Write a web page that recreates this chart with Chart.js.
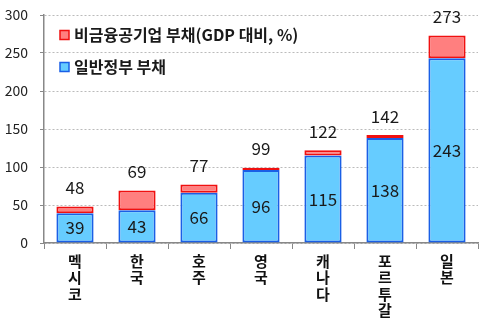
<!DOCTYPE html>
<html><head><meta charset="utf-8">
<script src="https://cdn.jsdelivr.net/npm/chart.js@4"></script>
<style>html,body{margin:0;padding:0;background:#fff}#wrap{width:487px;height:324px}</style>
</head><body><div id="wrap"><canvas id="c" width="487" height="324"></canvas></div>
<script>
const categories = ['멕시코','한국','호주','영국','캐나다','포르투갈','일본'];
const govDebt = [39, 43, 66, 96, 115, 138, 243];
const totalDebt = [48, 69, 77, 99, 122, 142, 273];
const seriesNames = ['일반정부 부채', '비금융공기업 부채(GDP 대비, %)'];
const yTicks = [0, 50, 100, 150, 200, 250, 300];
const soeDebt = totalDebt.map((t, i) => t - govDebt[i]);

const FONT = '"Noto Sans CJK KR", "Noto Sans", sans-serif';
const BLUE_FILL = '#66CCFF', BLUE_LINE = '#1A5FE6';
const RED_FILL = '#FF7F7F', RED_LINE = '#F01010';

const labelPlugin = {
  id: 'labels',
  afterDatasetsDraw(chart) {
    const ctx = chart.ctx;
    const m0 = chart.getDatasetMeta(0), m1 = chart.getDatasetMeta(1);
    ctx.save();
    ctx.font = '17px ' + FONT;
    ctx.fillStyle = '#1a1a1a';
    ctx.textAlign = 'center';
    ctx.textBaseline = 'middle';
    m0.data.forEach((b, i) => {
      ctx.fillText(String(govDebt[i]), b.x, (b.y + b.base) / 2);
    });
    m1.data.forEach((b, i) => {
      ctx.fillText(String(totalDebt[i]), b.x, b.y - 19);
    });
    // legend
    const x = chart.chartArea.left + 16;
    const items = [[seriesNames[1], RED_FILL, RED_LINE, 35], [seriesNames[0], BLUE_FILL, BLUE_LINE, 67]];
    ctx.textAlign = 'left';
    ctx.font = 'bold 16px ' + FONT;
    items.forEach(([t, f, l, y]) => {
      ctx.fillStyle = f; ctx.strokeStyle = l; ctx.lineWidth = 1.5;
      ctx.fillRect(x, y - 4.5, 9, 9); ctx.strokeRect(x, y - 4.5, 9, 9);
      ctx.fillStyle = '#1a1a1a';
      ctx.fillText(t, x + 14, y);
    });
    ctx.restore();
  }
};

new Chart(document.getElementById('c'), {
  type: 'bar',
  data: {
    labels: categories.map(c => Array.from(c)),
    datasets: [
      { label: seriesNames[0], data: govDebt, backgroundColor: BLUE_FILL, borderColor: BLUE_LINE, borderWidth: 2, borderSkipped: false, barPercentage: 0.6, categoryPercentage: 1.0 },
      { label: seriesNames[1], data: soeDebt, backgroundColor: RED_FILL, borderColor: RED_LINE, borderWidth: 2, borderSkipped: false, barPercentage: 0.6, categoryPercentage: 1.0 }
    ]
  },
  options: {
    responsive: false, animation: false,
    devicePixelRatio: 1,
    layout: { padding: { top: 0, right: 9, left: 3, bottom: 0 } },
    plugins: { legend: { display: false }, tooltip: { enabled: false } },
    scales: {
      x: {
        stacked: true,
        afterFit: ax => { ax.height = 81; },
        grid: { display: true, offset: true, drawOnChartArea: false, drawTicks: true, tickLength: 6, color: '#888' },
        border: { color: '#888', width: 1.5 },
        ticks: { color: '#111', font: { family: FONT, size: 15, weight: 'bold', lineHeight: 1.1 }, maxRotation: 0, autoSkip: false, padding: 4 }
      },
      y: {
        stacked: true, min: 0, max: 300,
        afterFit: ax => { ax.width = 41; ax.paddingTop = 15; },
        afterBuildTicks: ax => { ax.ticks = yTicks.map(v => ({ value: v })); },
        grid: { color: '#bbb', lineWidth: 1, drawTicks: true, tickLength: 4, tickColor: '#888', tickBorderDash: [] },
        border: { color: '#888', width: 1.5, dash: [2, 2] },
        ticks: { color: '#222', font: { family: FONT, size: 14 }, padding: 12 }
      }
    }
  },
  plugins: [labelPlugin]
});
</script></body></html>
